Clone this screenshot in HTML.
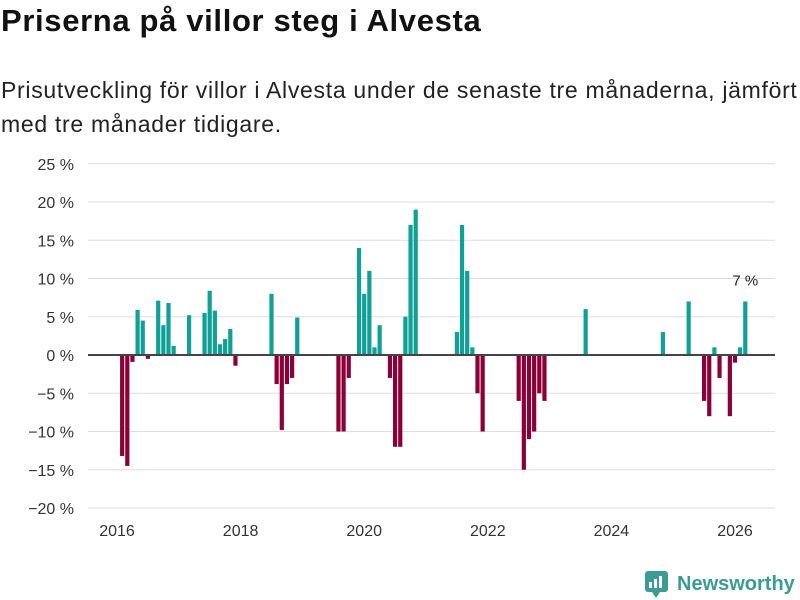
<!DOCTYPE html>
<html><head><meta charset="utf-8"><style>
body{margin:0;width:800px;height:600px;background:#fff;font-family:"Liberation Sans",sans-serif;overflow:hidden;position:relative}
h1{position:absolute;left:1px;top:3px;margin:0;font-size:31px;letter-spacing:0.65px;font-weight:bold;color:#111;white-space:nowrap}
.sub{position:absolute;left:1px;top:73px;margin:0;font-size:23px;letter-spacing:0.7px;line-height:34px;color:#222;width:820px;white-space:nowrap}
svg{position:absolute;left:0;top:0}
</style></head><body>
<h1>Priserna på villor steg i Alvesta</h1>
<p class="sub">Prisutveckling för villor i Alvesta under de senaste tre månaderna, jämfört<br>med tre månader tidigare.</p>
<svg width="800" height="600">
<g id="grid"></g><g id="bars"></g><g id="axes"></g>
<g>
<rect x="645" y="571" width="23" height="21" rx="3" fill="#3a9c94"/>
<path d="M652 592 L656 598 L660 592Z" fill="#3a9c94"/>
<rect x="649" y="582" width="3" height="6" fill="#fff"/><rect x="654" y="579" width="3" height="9" fill="#fff"/><rect x="659" y="576" width="3" height="12" fill="#fff"/>
<text x="677" y="590" font-size="20" font-weight="bold" fill="#3a9c94">Newsworthy</text>
</g>
</svg>
<script>
const months=[1,2,3,4,5,6,8,9,10,11,14,17,18,19,20,21,22,23,30,31,32,33,34,35,43,44,45,47,48,49,50,51,53,54,55,56,57,58,66,67,68,69,70,71,78,79,80,81,82,83,91,106,111,114,115,116,117,119,120,121,122];
const values=[-13.2,-14.5,-0.9,5.9,4.5,-0.5,7.1,3.9,6.8,1.2,5.2,5.5,8.4,5.8,1.4,2.1,3.4,-1.4,8,-3.8,-9.8,-3.8,-3,4.9,-10,-10,-3,14,8,11,1,3.9,-3,-12,-12,5,17,19,3,17,11,1,-5,-10,-6,-15,-11,-10,-5,-6,6,3,7,-6,-8,1,-3,-8,-1,1,7];
const yTicks=[25,20,15,10,5,0,-5,-10,-15,-20];
const xTickYears=[2016,2018,2020,2022,2024,2026];
const NS="http://www.w3.org/2000/svg";
const x=m=>117+m*(618/120);
const y=v=>355-v*(153/20);
function mk(t,a,p){const e=document.createElementNS(NS,t);for(const k in a)e.setAttribute(k,a[k]);p.appendChild(e);return e;}
const grid=document.getElementById('grid'),bars=document.getElementById('bars'),axes=document.getElementById('axes');
yTicks.forEach(t=>{
 const l=mk('line',{x1:88,x2:775,y1:y(t),y2:y(t),stroke:t===0?'#444':'#ddd','stroke-width':t===0?2:1},t===0?axes:grid);
 
 
 const tx=mk('text',{x:74,y:y(t)+6,'text-anchor':'end','font-size':16,fill:'#333'},axes);
 tx.textContent=(t<0?'−'+(-t):t)+' %';
 
 
});
xTickYears.forEach(yr=>{
 const m=(yr-2016)*12;
 const tx=mk('text',{x:x(m),y:536,'text-anchor':'middle','font-size':16,fill:'#333'},axes);
 tx.textContent=yr;
 
 
});
months.forEach((m,i)=>{
 const v=values[i];
 const r=mk('rect',{x:x(m)-2.1,width:4.2,y:v>=0?y(v):y(0),height:Math.abs(y(v)-y(0)),fill:v>=0?'#0fa096':'#8c0039'},bars);
 
 
});
const li=months.length-1;
const lab=mk('text',{x:x(months[li]),y:y(values[li])-16,'text-anchor':'middle','font-size':15,fill:'#222'},axes);
lab.textContent=values[li]+' %';


</script>
</body></html>
